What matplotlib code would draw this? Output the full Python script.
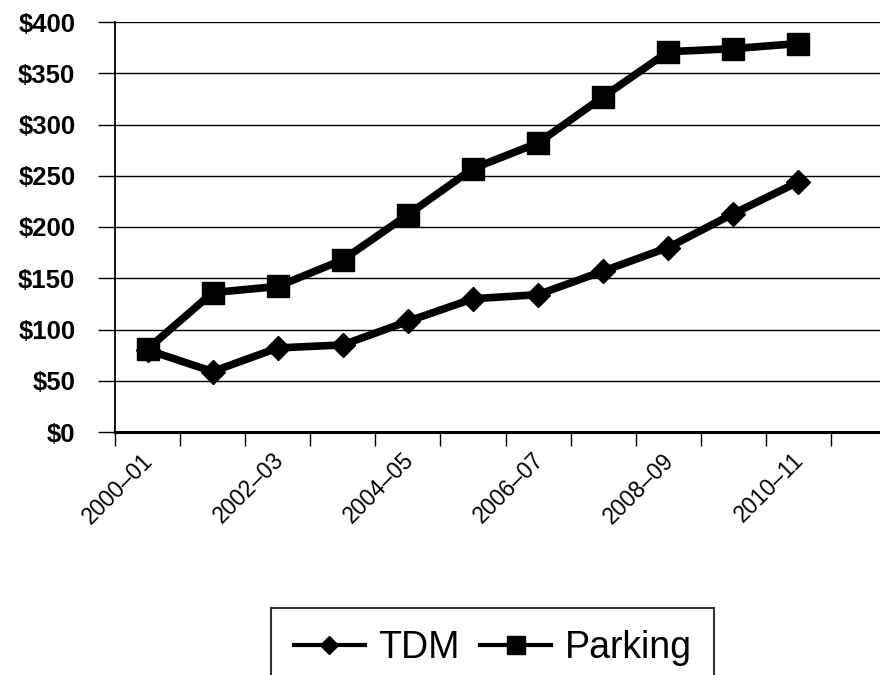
import matplotlib
matplotlib.use("Agg")
import matplotlib.pyplot as plt
import matplotlib.transforms as mtransforms
import numpy as np

# Annual spending by fiscal year (thousands of dollars)
years = ["2000–01", "2001–02", "2002–03", "2003–04", "2004–05", "2005–06",
         "2006–07", "2007–08", "2008–09", "2009–10", "2010–11"]
tdm = [80, 59, 82, 85, 108, 130, 134, 157, 180, 213, 244]
parking = [81, 136, 142, 168, 212, 257, 282, 327, 371, 374, 379]
y_ticks = [0, 50, 100, 150, 200, 250, 300, 350, 400]
n_slots = 12

plt.rcParams["font.family"] = ["Liberation Sans", "DejaVu Sans"]

fig = plt.figure(figsize=(8.8, 6.75), dpi=100)
ax = fig.add_axes([115 / 880, 1 - 432 / 675, 781 / 880, 410 / 675])

x = np.arange(len(years)) + 0.5
ax.plot(x, tdm, color="black", lw=5.5, marker="D", ms=12, label="TDM",
        clip_on=False)
ax.plot(x, parking, color="black", lw=5.5, marker="s", ms=16, label="Parking",
        clip_on=False)

ax.set_xlim(0, n_slots)
ax.set_ylim(0, 400)

# Y axis: dollar labels, gridlines
ax.set_yticks(y_ticks)
ax.set_yticklabels([f"${v}" for v in y_ticks], fontsize=18.5, fontweight="bold")
ax.yaxis.grid(True, color="black", lw=1.0)
ax.tick_params(axis="y", direction="out", length=12.5, width=1.0, pad=16)

# X axis: ticks between categories, labels every other year
ax.set_xticks(np.arange(0, n_slots + 1))
ax.set_xticklabels([])
ax.tick_params(axis="x", direction="out", length=10, width=1.0)
ax.set_xticks(x[::2], minor=True)
ax.set_xticklabels(years[::2], minor=True, rotation=45, ha="right",
                   va="top", rotation_mode="anchor", fontsize=16.5)
ax.tick_params(axis="x", which="minor", length=0, pad=12)
offset = mtransforms.ScaledTranslation(-6 / 100, 0, fig.dpi_scale_trans)
for lab in ax.get_xticklabels(minor=True):
    lab.set_transform(lab.get_transform() + offset)

for side in ["top", "right"]:
    ax.spines[side].set_visible(False)
ax.spines["left"].set_linewidth(1.3)
ax.spines["bottom"].set_linewidth(2.2)
ax.set_axisbelow(True)

leg = fig.legend(loc="upper left", bbox_to_anchor=(271 / 880, 1 - 608 / 675),
                 borderaxespad=0, ncol=2, fontsize=27, frameon=True,
                 fancybox=False, edgecolor="black", handlelength=1.9,
                 handletextpad=0.35, columnspacing=0.55, borderpad=0.6,
                 markerscale=0.8)
leg.get_frame().set_linewidth(1.5)
for ln in leg.get_lines():
    ln.set_linewidth(3)

fig.savefig("out.png", dpi=100)
